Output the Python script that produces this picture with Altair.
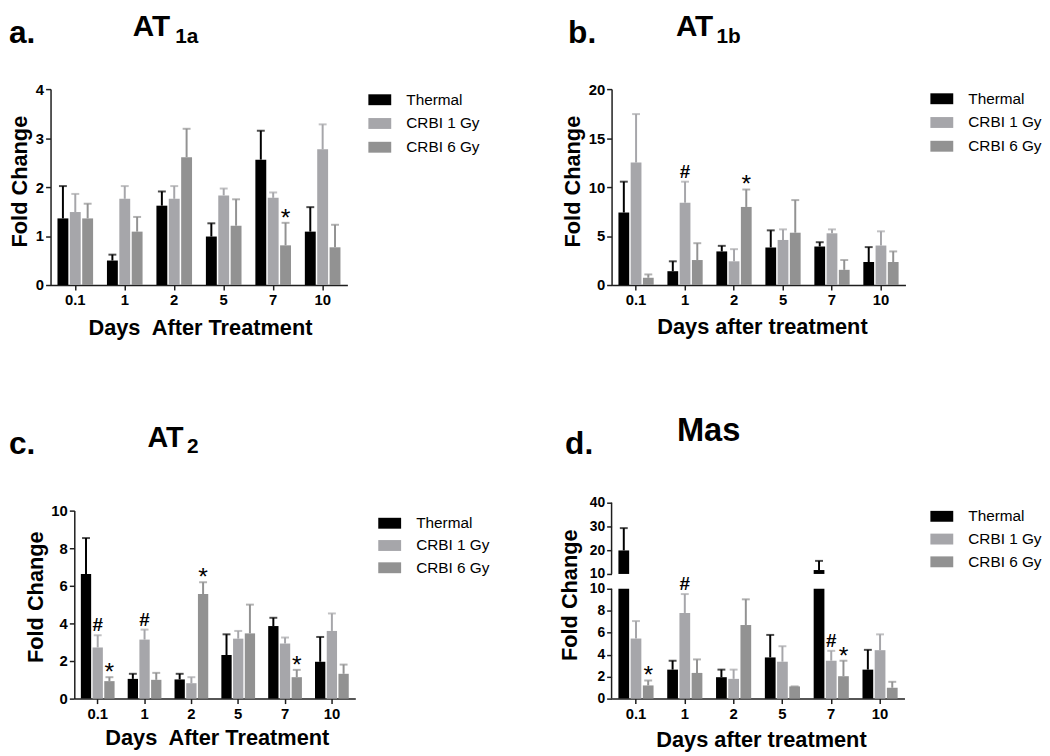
import altair as alt
import pandas as pd

FONT = "Liberation Sans"
AXC = "#1e1e1e"
DAYS = ["0.1", "1", "2", "5", "7", "10"]
GROUPS = ["Thermal", "CRBI 1 Gy", "CRBI 6 Gy"]
COLORS = ["#000000", "#a6a6aa", "#929292"]

# ---- panel a: AT1a ----
A_THERMAL = [1.36, 0.50, 1.62, 0.99, 2.56, 1.09]
A_THERMAL_ERR = [2.02, 0.62, 1.91, 1.26, 3.15, 1.59]
A_CRBI1 = [1.49, 1.76, 1.76, 1.83, 1.78, 2.77]
A_CRBI1_ERR = [1.86, 2.02, 2.02, 1.97, 1.89, 3.28]
A_CRBI6 = [1.36, 1.09, 2.61, 1.21, 0.81, 0.77]
A_CRBI6_ERR = [1.66, 1.39, 3.19, 1.75, 1.27, 1.23]
A_NOTES = [["", "", "", "", "", ""], ["", "", "", "", "", ""], ["", "", "", "", "*", ""]]

# ---- panel b: AT1b ----
B_THERMAL = [7.40, 1.41, 3.43, 3.83, 3.93, 2.35]
B_THERMAL_ERR = [10.55, 2.42, 4.00, 5.58, 4.37, 3.87]
B_CRBI1 = [12.50, 8.40, 2.42, 4.60, 5.28, 4.03]
B_CRBI1_ERR = [17.45, 10.55, 3.66, 5.68, 5.68, 5.48]
B_CRBI6 = [0.74, 2.55, 7.97, 5.34, 1.55, 2.35]
B_CRBI6_ERR = [1.08, 4.27, 9.75, 8.67, 2.55, 3.43]
B_NOTES = [["", "", "", "", "", ""], ["", "#", "", "", "", ""], ["", "", "*", "", "", ""]]

# ---- panel c: AT2 ----
C_THERMAL = [6.63, 1.05, 1.02, 2.32, 3.86, 1.96]
C_THERMAL_ERR = [8.54, 1.32, 1.32, 3.42, 4.30, 3.28]
C_CRBI1 = [2.72, 3.14, 0.82, 3.19, 2.93, 3.60]
C_CRBI1_ERR = [3.37, 3.67, 1.14, 3.60, 3.25, 4.53]
C_CRBI6 = [0.93, 1.00, 5.56, 3.47, 1.14, 1.32]
C_CRBI6_ERR = [1.14, 1.37, 6.19, 5.00, 1.53, 1.81]
C_NOTES = [["", "", "", "", "", ""], ["#", "#", "", "", "", ""], ["*", "", "*", "", "*", ""]]

# ---- panel d: Mas (broken axis) ----
D_THERMAL = [19.90, 2.64, 1.95, 3.75, 11.65, 2.64]
D_THERMAL_ERR = [29.30, 3.45, 2.64, 5.80, 15.50, 4.44]
D_CRBI1 = [5.47, 7.80, 1.80, 3.36, 3.45, 4.41]
D_CRBI1_ERR = [7.06, 9.52, 2.64, 4.77, 4.35, 5.85]
D_CRBI6 = [1.20, 2.34, 6.70, 1.11, 2.04, 0.99]
D_CRBI6_ERR = [1.65, 3.57, 9.04, 1.11, 3.45, 1.53]
D_NOTES = [["", "", "", "", "", ""], ["", "#", "", "", "#", ""], ["*", "", "", "", "*", ""]]

A_TICKS = [0, 1, 2, 3, 4]
B_TICKS = [0, 5, 10, 15, 20]
C_TICKS = [0, 2, 4, 6, 8, 10]
D_TICKS = [0, 2, 4, 6, 8, 10, 10.001, 20, 30, 40]
BREAK_LO, BREAK_HI = 10, 10.001


def build(means, errs, notes):
    rows = []
    for g, mv, ev, nv in zip(GROUPS, means, errs, notes):
        for d, m, e, n in zip(DAYS, mv, ev, nv):
            rows.append({"day": d, "group": g, "value": m, "err": e, "note": n})
    return pd.DataFrame(rows)


def label_text(txt, x, y, size, weight="bold"):
    return alt.Chart(pd.DataFrame({"t": [txt]})).mark_text(
        font=FONT, fontSize=size, fontWeight=weight, align="left",
        baseline="alphabetic", color="black"
    ).encode(text="t:N", x=alt.value(x), y=alt.value(y))


def panel(df, letter, head, sub, xtitle, yscale, yticks, cap, *, width, height,
          xrange=None, yoffset=0, broken=False, legend_xy=(325, 5), row_pad=7,
          letter_xy=(-42, -47), head_xy=(83, -54), head_size=30, sub_xy=(126, -47),
          ytitle_xy=(-32, 93), xtitle_xy=(151, 50), ylabel_size=15, anchor=False):
    sc = {"paddingInner": 0.28, "paddingOuter": 0.14}
    if xrange is not None:
        sc["range"] = xrange
    xscale = alt.Scale(**sc)
    xaxis = alt.Axis(
        title=xtitle, labelAngle=0, grid=False, domainColor=AXC, domainWidth=1.5,
        tickColor=AXC, tickWidth=1.5, tickSize=5, labelFont=FONT, labelFontSize=15,
        labelFontWeight="bold", labelColor="black", labelPadding=3, labelOverlap=False,
        titleFont=FONT, titleFontSize=22, titleFontWeight="bold", titleColor="black",
        titleX=xtitle_xy[0], titleY=xtitle_xy[1], titleAlign="center",
        titleBaseline="alphabetic", titleAnchor="start")
    yaxis = alt.Axis(
        title="Fold Change", values=yticks, format="d", grid=False, offset=yoffset,
        domain=not broken, domainColor=AXC, domainWidth=1.5, tickColor=AXC,
        tickWidth=1.5, tickSize=5, labelFont=FONT, labelFontSize=ylabel_size,
        labelFontWeight="bold", labelColor="black", labelPadding=2, labelOverlap=False,
        titleFont=FONT, titleFontSize=22, titleFontWeight="bold", titleColor="black",
        titleX=ytitle_xy[0], titleY=ytitle_xy[1], titleAngle=270, titleAlign="center",
        titleBaseline="alphabetic", titleAnchor="start")
    xo = alt.XOffset("group:N", sort=GROUPS, scale=alt.Scale(paddingInner=0.12, paddingOuter=0))
    cscale = alt.Scale(domain=GROUPS, range=COLORS)
    color_leg = alt.Color("group:N", sort=GROUPS, scale=cscale, legend=alt.Legend(
        title=None, orient="none", legendX=legend_xy[0], legendY=legend_xy[1],
        symbolType="M-2.1,-1H2.1V1H-2.1Z", symbolSize=121, symbolStrokeWidth=0,
        labelFont=FONT, labelFontSize=15.5, labelColor="black", labelOffset=19,
        rowPadding=row_pad, padding=0))
    color_nol = alt.Color("group:N", sort=GROUPS, scale=cscale, legend=None)
    xenc = alt.X("day:N", sort=DAYS, scale=xscale, axis=xaxis)

    def yenc(field):
        return alt.Y(field, scale=yscale, axis=yaxis)

    base = alt.Chart(df).transform_calculate(lo=f"min(datum.value, {cap})")
    layers = []
    layers.append(base.mark_bar().encode(
        x=xenc, xOffset=xo, y=yenc("lo:Q"), color=color_leg))
    if broken:
        layers.append(base.transform_filter(f"datum.value > {cap}").mark_bar().encode(
            x=xenc, xOffset=xo, y=yenc("value:Q"),
            y2=alt.datum(BREAK_HI), color=color_nol))
        segs = pd.DataFrame({"y0": [0, BREAK_HI], "y1": [BREAK_LO, 40]})
        layers.append(alt.Chart(segs).mark_rule(strokeWidth=1.5, color=AXC).encode(
            x=alt.value(0), y=yenc("y0:Q"), y2="y1:Q"))
    layers.append(base.mark_rule(strokeWidth=2).encode(
        x=xenc, xOffset=xo, y=yenc("value:Q"), y2="err:Q", color=color_nol))
    layers.append(base.mark_tick(thickness=2, size=8).encode(
        x=xenc, xOffset=xo, y=yenc("err:Q"), color=color_nol))
    layers.append(base.transform_filter("datum.note == '#'").mark_text(
        font=FONT, fontSize=19, fontWeight="bold", baseline="alphabetic", dy=-4,
        color="black").encode(
        x=xenc, xOffset=xo, y=yenc("err:Q"), text="note:N"))
    layers.append(base.transform_filter("datum.note == '*'").mark_text(
        font=FONT, fontSize=25, baseline="alphabetic", dy=3, color="black").encode(
        x=xenc, xOffset=xo, y=yenc("err:Q"), text="note:N"))
    layers.append(label_text(letter, letter_xy[0], letter_xy[1], 32))
    layers.append(label_text(head, head_xy[0], head_xy[1], head_size))
    if sub:
        layers.append(label_text(sub, sub_xy[0], sub_xy[1], 21))
    if anchor:
        layers.append(alt.Chart(pd.DataFrame({"t": [0]})).mark_rect(opacity=0).encode(
            x=alt.value(-42), x2=alt.value(-41), y=alt.value(-78), y2=alt.value(-77)))
    return alt.layer(*layers).properties(width=width, height=height)


pa = panel(build([A_THERMAL, A_CRBI1, A_CRBI6], [A_THERMAL_ERR, A_CRBI1_ERR, A_CRBI6_ERR], A_NOTES),
           "a.", "AT", "1a", "Days\u00a0 After Treatment",
           alt.Scale(domain=[0, 4], nice=False), A_TICKS, 100, width=300, height=198,
           legend_xy=(325, 3), letter_xy=(-42, -47), head_xy=(83, -54), sub_xy=(126, -47),
           ytitle_xy=(-24, 93), xtitle_xy=(151, 50), anchor=True)

pb = panel(build([B_THERMAL, B_CRBI1, B_CRBI6], [B_THERMAL_ERR, B_CRBI1_ERR, B_CRBI6_ERR], B_NOTES),
           "b.", "AT", "1b", "Days after treatment",
           alt.Scale(domain=[0, 20], nice=False), B_TICKS, 100, width=297, height=198,
           legend_xy=(326, 2), letter_xy=(-44, -47), head_xy=(65, -54), sub_xy=(106, -47),
           ytitle_xy=(-32, 93), xtitle_xy=(152, 49))

pc = panel(build([C_THERMAL, C_CRBI1, C_CRBI6], [C_THERMAL_ERR, C_CRBI1_ERR, C_CRBI6_ERR], C_NOTES),
           "c.", "AT", "2", "Days\u00a0 After Treatment",
           alt.Scale(domain=[0, 10], range=[198, 8], nice=False), C_TICKS, 100,
           width=300, height=198, xrange=[24, 308], yoffset=-24,
           legend_xy=(335, 13), row_pad=5.5, letter_xy=(-42, -49), head_xy=(98, -56),
           head_size=29, sub_xy=(138, -50), ytitle_xy=(-32, 95), xtitle_xy=(168, 46))

pd_ = panel(build([D_THERMAL, D_CRBI1, D_CRBI6], [D_THERMAL_ERR, D_CRBI1_ERR, D_CRBI6_ERR], D_NOTES),
            "d.", "Mas", "", "Days after treatment",
            alt.Scale(domain=[0, BREAK_LO, BREAK_HI, 40], range=[198, 87, 72, 0], nice=False, zero=False),
            D_TICKS, BREAK_LO, width=296, height=198, broken=True, ylabel_size=14,
            legend_xy=(326, 6), row_pad=6, letter_xy=(-47, -49), head_xy=(66, -62), head_size=33,
            ytitle_xy=(-35, 93), xtitle_xy=(151, 48))

chart = alt.concat(
    pa, pb, pc, pd_, columns=2, spacing={"row": 220, "column": 267},
    bounds="flush", align="all"
).resolve_scale(
    x="independent", y="independent", color="independent", xOffset="independent"
).resolve_legend(color="independent").configure_view(stroke=None).properties(
    padding=0, background="white")

chart.save("out.html", embed_options={"renderer": "svg", "actions": False})
